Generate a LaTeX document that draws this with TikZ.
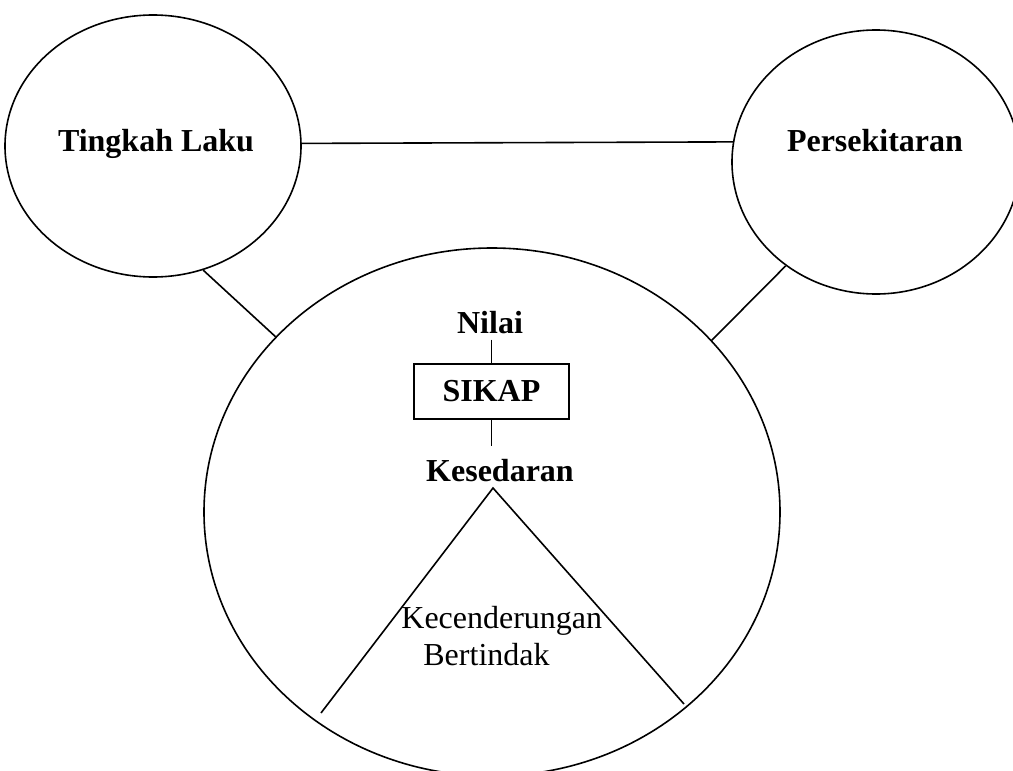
\documentclass[tikz,border=0pt]{standalone}
\usepackage{fontspec}
\setmainfont{Liberation Serif}
\usetikzlibrary{shapes.geometric,positioning,calc}
\tikzset{
  bulatan/.style   = {draw, ellipse, line width=0.8pt, inner sep=0pt},
  teks/.style      = {font=\fontsize{16}{18.5}\selectfont\bfseries, inner sep=0pt},
  teksbiasa/.style = {font=\fontsize{16}{18.5}\selectfont, inner sep=0pt},
  kotak/.style     = {draw, line width=0.8pt, font=\fontsize{16}{18.5}\selectfont\bfseries,
                      minimum width=77.5pt, minimum height=27.5pt, inner sep=0pt},
  garis/.style     = {line width=0.8pt},
}

\begin{document}
\begin{tikzpicture}[x=0.5pt,y=-0.5pt]
  \clip (0,0) rectangle (1013,771);
  % bulatan
  \node[bulatan, minimum width=148pt, minimum height=131pt] (tingkah) at (153,146) {};
  \node[bulatan, minimum width=144pt, minimum height=132pt] (sekitar) at (876,162) {};
  \node[bulatan, minimum width=288pt, minimum height=264pt] (tengah) at (492,512) {};
  \node[teks, anchor=base] (tingkahteks) at (156,151) {Tingkah Laku};
  \node[teks, anchor=base] (sekitarteks) at (875,151) {Persekitaran};
  \draw[garis] (tingkah.1.2) -- (sekitar.172.4);
  \draw[garis] (tingkah.-68.2) -- (tengah.141.3);
  \draw[garis] (sekitar.-131.7) -- (tengah.38.2);

  % sikap
  \node[kotak] (sikap) at (491.5,391.5) {SIKAP};
  \node[teks, anchor=base] (nilai) at (490,333) {Nilai};
  \node[teks, anchor=base] (sedar) at (500,481) {Kesedaran};
  \draw[garis] ([yshift=-3pt]nilai.south -| sikap.north) -- (sikap.north);
  \draw[garis] (sikap.south) -- ([yshift=6pt]sedar.north -| sikap.south);

  % kecenderungan bertindak
  \coordinate (puncak) at (493,488);
  \coordinate (kiri) at (321,713);
  \coordinate (kanan) at (684,704);
  \draw[garis] (kiri) -- (puncak) -- (kanan);
  \node[teksbiasa, anchor=base west] (cenderung) at (401,628) {Kecenderungan};
  \node[teksbiasa, anchor=base west] (bertindak) at (423,665) {Bertindak};
\end{tikzpicture}
\end{document}
